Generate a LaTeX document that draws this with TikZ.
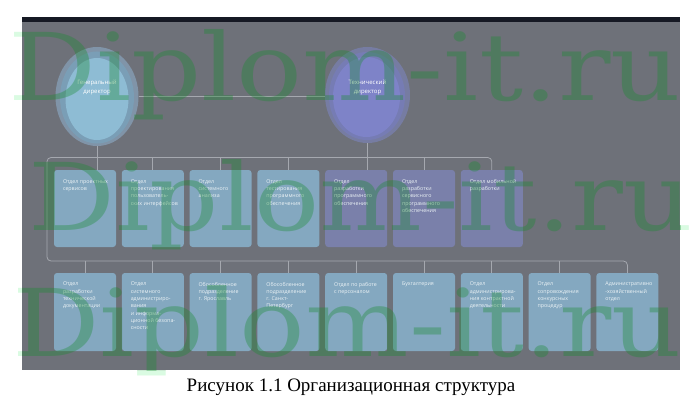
\documentclass[tikz,border=0pt]{standalone}
\usepackage{fontspec}
\setmainfont{Liberation Serif}
\newfontfamily\boxfont{Open Sans}
\newfontfamily\wmfont{DejaVu Serif}
\usetikzlibrary{shapes.geometric}
\definecolor{bgc}{RGB}{110,113,121}
\definecolor{topband}{RGB}{22,25,36}
\definecolor{bluebox}{RGB}{132,168,192}
\definecolor{purplebox}{RGB}{122,128,170}
\definecolor{connc}{RGB}{165,168,175}
\definecolor{wmgreen}{RGB}{24,139,47}
\definecolor{wmpale}{RGB}{218,251,226}
\definecolor{boxtext}{RGB}{236,243,246}
\definecolor{ghalo}{RGB}{128,148,168}
\definecolor{gring}{RGB}{122,158,182}
\definecolor{ginner}{RGB}{142,188,212}
\definecolor{thalo}{RGB}{118,124,162}
\definecolor{tring}{RGB}{118,124,180}
\definecolor{tinner}{RGB}{126,131,200}
\newcommand{\wmtext}[1]{\resizebox{#1}{71pt}{\wmfont Diplom-it.ru}}
\tikzset{
  conn/.style={draw=connc, line width=0.8pt},
  dept/.style={rectangle, rounded corners=3pt, minimum width=62pt, minimum height=77pt, inner sep=0pt},
  deptblue/.style={dept, fill=bluebox},
  deptpurple/.style={dept, fill=purplebox},
  deptlow/.style={dept, fill=bluebox, minimum height=78pt},
  depttext/.style={anchor=north west, inner sep=0pt, align=left, text=boxtext, font=\boxfont\fontsize{5.3}{7.3}\selectfont},
  headtext/.style={inner sep=0pt, align=center, text=white, font=\boxfont\fontsize{6}{9}\selectfont},
  oval/.style={ellipse, inner sep=0pt},
  wmout/.style={anchor=base west, inner sep=0pt, text=wmpale},
  wmin/.style={anchor=base west, inner sep=0pt, text=wmgreen, text opacity=0.35},
}
\begin{document}
\begin{tikzpicture}[x=1pt,y=-1pt]
\useasboundingbox (0,0) rectangle (698,412);
\fill[white] (0,0) rectangle (698,412);
% watermark, outside the frame
\node[wmout] (wm1o) at (8,100) {\wmtext{673pt}};
\node[wmout] (wm2o) at (28,230) {\wmtext{665pt}};
\node[wmout] (wm3o) at (12,356) {\wmtext{670pt}};
% frame
\fill[bgc] (22,17) rectangle (680,370);
\fill[topband] (22,17) rectangle (680,22);

% directors
\node[oval, fill=ghalo, minimum width=83pt, minimum height=99pt] (g) at (97,96.5) {};
\node[oval, fill=gring, minimum width=74pt, minimum height=92pt] (gr) at (97,97.5) {};
\node[oval, fill=ginner, minimum width=63pt, minimum height=82pt] (gi) at (97,99) {};
\node[headtext] (gtext) at (97,87.5) {Генеральный\\директор};

\node[oval, fill=thalo, minimum width=85pt, minimum height=96pt] (t) at (367.5,95) {};
\node[oval, fill=tring, minimum width=76pt, minimum height=88pt] (tr) at (367,96) {};
\node[oval, fill=tinner, minimum width=67pt, minimum height=80pt] (ti) at (366.5,97) {};
\node[headtext] (ttext) at (367.5,87.5) {Технический\\директор};

% top row
\node[deptblue] (t1) at (85,208.5) {};
\node[deptblue] (t2) at (152.8,208.5) {};
\node[deptblue] (t3) at (220.6,208.5) {};
\node[deptblue] (t4) at (288.4,208.5) {};
\node[deptpurple] (t5) at (356.2,208.5) {};
\node[deptpurple] (t6) at (424,208.5) {};
\node[deptpurple] (t7) at (491.8,208.5) {};

\node[depttext] (t1x) at ([xshift=9pt,yshift=-9.5pt]t1.north west) {Отдел проектных\\сервисов};
\node[depttext] (t2x) at ([xshift=9pt,yshift=-9.5pt]t2.north west) {Отдел\\проектирования\\пользователь-\\ских интерфейсов};
\node[depttext] (t3x) at ([xshift=9pt,yshift=-9.5pt]t3.north west) {Отдел\\системного\\анализа};
\node[depttext] (t4x) at ([xshift=9pt,yshift=-9.5pt]t4.north west) {Отдел\\тестирования\\программного\\обеспечения};
\node[depttext] (t5x) at ([xshift=9pt,yshift=-9.5pt]t5.north west) {Отдел\\разработки\\программного\\обеспечения};
\node[depttext] (t6x) at ([xshift=9pt,yshift=-9.5pt]t6.north west) {Отдел\\разработки\\сервисного\\программного\\обеспечения};
\node[depttext] (t7x) at ([xshift=9pt,yshift=-9.5pt]t7.north west) {Отдел мобильной\\разработки};

% bottom row
\node[deptlow] (b1) at (85,312) {};
\node[deptlow] (b2) at (152.8,312) {};
\node[deptlow] (b3) at (220.6,312) {};
\node[deptlow] (b4) at (288.4,312) {};
\node[deptlow] (b5) at (356.2,312) {};
\node[deptlow] (b6) at (424,312) {};
\node[deptlow] (b7) at (491.8,312) {};
\node[deptlow] (b8) at (559.6,312) {};
\node[deptlow] (b9) at (627.4,312) {};

\node[depttext] (b1x) at ([xshift=9pt,yshift=-9pt]b1.north west) {Отдел\\разработки\\технической\\документации};
\node[depttext] (b2x) at ([xshift=9pt,yshift=-9pt]b2.north west) {Отдел\\системного\\администриро-\\вания\\и информа-\\ционной безопа-\\сности};
\node[depttext] (b3x) at ([xshift=9pt,yshift=-9pt]b3.north west) {Обособленное\\подразделение\\г. Ярославль};
\node[depttext] (b4x) at ([xshift=9pt,yshift=-9pt]b4.north west) {Обособленное\\подразделение\\г. Санкт-\\Петербург};
\node[depttext] (b5x) at ([xshift=9pt,yshift=-9pt]b5.north west) {Отдел по работе\\с персоналом};
\node[depttext] (b6x) at ([xshift=9pt,yshift=-9pt]b6.north west) {Бухгалтерия};
\node[depttext] (b7x) at ([xshift=9pt,yshift=-9pt]b7.north west) {Отдел\\администрирова-\\ния контрактной\\деятельности};
\node[depttext] (b8x) at ([xshift=9pt,yshift=-9pt]b8.north west) {Отдел\\сопровождения\\конкурсных\\процедур};
\node[depttext] (b9x) at ([xshift=9pt,yshift=-9pt]b9.north west) {Административно\\-хозяйственный\\отдел};

% connectors
\coordinate (railtop) at (47,157.5);
\coordinate (railbot) at (47,261);
\draw[conn] (g.east) -- (g.east -| t.west);
\draw[conn] (g.south) -- (g.south |- t1.north);
\draw[conn] (t.south) -- (t.south |- t5.north);
\draw[conn, rounded corners=4pt] (t7.north) -- (t7.north |- railtop) -- (railtop) -- (railbot) -- (b9.north |- railbot) -- (b9.north);
\foreach \n in {t2,t3,t4,t6} \draw[conn] (\n.north) -- (\n.north |- railtop);
\foreach \n in {b1,b2,b3,b4,b5,b6,b7,b8} \draw[conn] (\n.north) -- (\n.north |- railbot);

% watermark, inside the frame
\begin{scope}
\clip (22,22) rectangle (680,370);
\node[wmin] (wm1) at (8,100) {\wmtext{673pt}};
\node[wmin] (wm2) at (28,230) {\wmtext{665pt}};
\node[wmin] (wm3) at (12,356) {\wmtext{670pt}};
\end{scope}

% caption
\node[anchor=base, inner sep=0pt, font=\fontsize{19}{19}\selectfont] (cap) at (351,391) {Рисунок 1.1 Организационная структура};
\end{tikzpicture}
\end{document}
